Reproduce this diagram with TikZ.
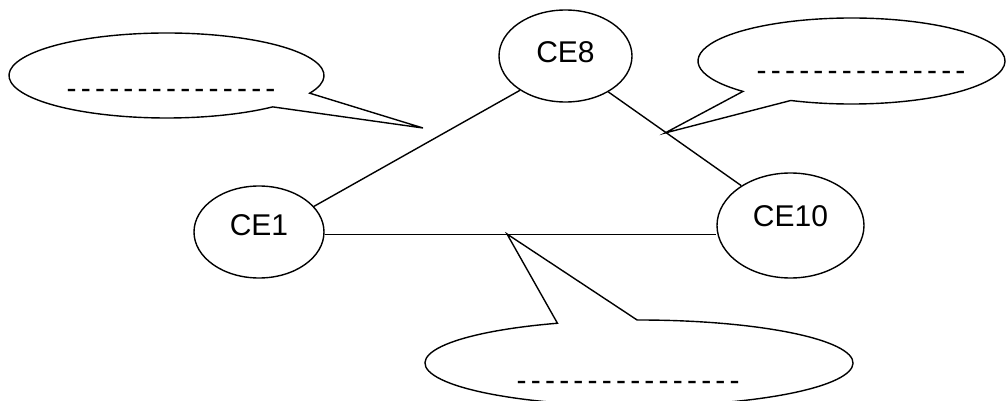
\documentclass[tikz,border=0pt]{standalone}
\usepackage{fontspec}
\setmainfont{Liberation Sans}
\usetikzlibrary{shapes.geometric}

% a row of evenly spaced hyphens
\newcount\dashcnt
\newcommand\dashrow[1]{\dashcnt=0 \loop\makebox[14.2pt][l]{-}\advance\dashcnt by 1 \ifnum\dashcnt<#1\repeat}

\begin{document}
\begin{tikzpicture}[x=1pt,y=1pt,line width=1.4pt,
  unit/.style={ellipse,draw,inner sep=0pt,font=\fontsize{30}{36}\selectfont,text height=21.5pt},
  bubble/.style={draw,line join=miter},
  dashtext/.style={anchor=base west,inner sep=0pt,font=\fontsize{30}{36}\selectfont}]
\useasboundingbox (0,0) rectangle (1007,-401);
\clip (0,0) rectangle (1007,-401);

% network units
\node[unit,minimum width=130pt,minimum height=92pt,text depth=14.1pt] (ce1) at (259,-232) {CE1};
\node[unit,minimum width=133pt,minimum height=92pt,text depth=8.1pt] (ce8) at (565.5,-56) {CE8};
\node[unit,minimum width=147pt,minimum height=105pt,text depth=20.1pt] (ce10) at (790.5,-225.5) {CE10};

% links
\draw (ce1.25) -- (ce8.217);
\draw (ce8.-40) -- (ce10.141);
\draw (ce1.-2) -- (ce1.-2 -| ce10.west);

% speech bubbles
\draw[bubble] (166.5,-75.5) ++(-24.6:157.5pt and 42.5pt)
  arc[start angle=-24.6,end angle=312.4,x radius=157.5pt,y radius=42.5pt]
  -- (423,-128) -- cycle;
\draw[bubble] (851.5,-61) ++(246.7:153.5pt and 43pt)
  arc[start angle=246.7,end angle=585,x radius=153.5pt,y radius=43pt]
  -- (665,-133) -- cycle;
\draw[bubble] (639,-363) ++(112.4:214pt and 43pt)
  arc[start angle=112.4,end angle=450.5,x radius=214pt,y radius=43pt]
  -- (507,-234) -- cycle;

% placeholder text inside the bubbles
\node[dashtext] (t1) at (66,-99) {\dashrow{15}};
\node[dashtext] (t2) at (756,-80.7) {\dashrow{15}};
\node[dashtext] (t3) at (516,-390) {\dashrow{16}};
\end{tikzpicture}
\end{document}
